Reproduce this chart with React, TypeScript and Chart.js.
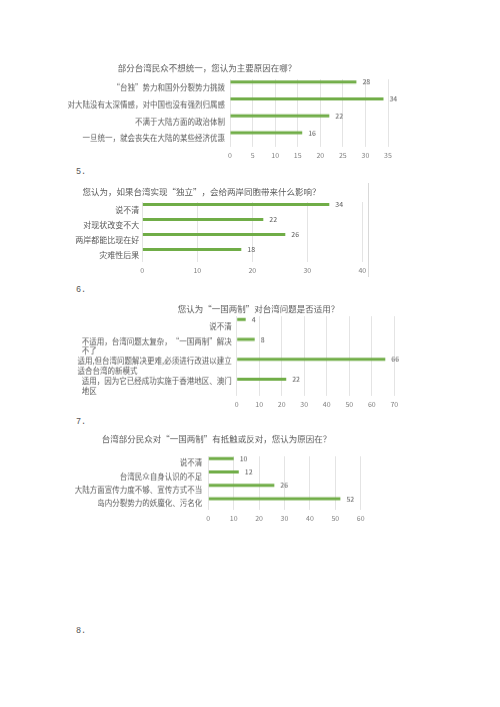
import React, { useEffect, useRef } from "react";
import { Chart, registerables } from "chart.js";

Chart.register(...registerables);

const FONT = '"Noto Sans CJK SC", "Noto Sans", sans-serif';
const GREEN = "#70ad47";
const TEXT = "#595959";
const TICK = "#808080";
const GRID = "#e4e4e4";

// Q4: why some people in Taiwan don't want unification
const q4Title = "部分台湾民众不想统一，您认为主要原因在哪？";
const q4Labels = [
  "“台独”势力和国外分裂势力挑拨",
  "对大陆没有太深情感，对中国也没有强烈归属感",
  "不满于大陆方面的政治体制",
  "一旦统一，就会丧失在大陆的某些经济优惠",
];
const q4Values = [28, 34, 22, 16];
const q4Ticks = [0, 5, 10, 15, 20, 25, 30, 35];

// Q5: impact of "independence"
const q5Title = "您认为，如果台湾实现“独立”，会给两岸同胞带来什么影响？";
const q5Labels = ["说不清", "对现状改变不大", "两岸都能比现在好", "灾难性后果"];
const q5Values = [34, 22, 26, 18];
const q5Ticks = [0, 10, 20, 30, 40];

// Q6: is "one country, two systems" applicable
const q6Title = "您认为“一国两制”对台湾问题是否适用？";
const q6Labels = [
  "说不清",
  ["不适用，台湾问题太复杂，“一国两制”解决", "不了"],
  ["适用,但台湾问题解决更难,必须进行改进以建立", "适合台湾的新模式"],
  ["适用，因为它已经成功实施于香港地区、澳门", "地区"],
];
const q6Values = [4, 8, 66, 22];
const q6Ticks = [0, 10, 20, 30, 40, 50, 60, 70];

// Q7: reasons for resistance
const q7Title = "台湾部分民众对“一国两制”有抵触或反对，您认为原因在？";
const q7Labels = [
  "说不清",
  "台湾民众自身认识的不足",
  "大陆方面宣传力度不够、宣传方式不当",
  "岛内分裂势力的妖魔化、污名化",
];
const q7Values = [10, 12, 26, 52];
const q7Ticks = [0, 10, 20, 30, 40, 50, 60];

const CANVAS_LEFT = 10;
const CANVAS_W = 440;

type Label = string | string[];

interface PanelProps {
  title: string;
  labels: Label[];
  values: number[];
  ticks: number[];
  titleX: number;
  titleY: number;
  area: [number, number, number, number]; // left, top, right, bottom (page px)
  labelSize: number;
  labelGap: number;
}

const BarPanel = ({ title, labels, values, ticks, titleX, titleY, area, labelSize, labelGap }: PanelProps) => {
  const canvasRef = useRef<HTMLCanvasElement>(null);
  const [areaLeft, areaTop, areaRight, areaBottom] = area;
  const canvasTop = titleY - 10;
  const canvasH = areaBottom + 16 - canvasTop;

  useEffect(() => {
    if (!canvasRef.current) return;
    const padL = 2 * titleX - areaRight - CANVAS_LEFT;
    const padR = CANVAS_LEFT + CANVAS_W - areaRight;
    const yWidth = areaLeft - CANVAS_LEFT - padL;

    // category labels (block left-aligned, placed right against the axis) and value labels
    const barText = {
      id: "barText",
      afterDatasetsDraw(chart: any) {
        const { ctx, chartArea } = chart;
        const yScale = chart.scales.y;
        ctx.save();
        ctx.fillStyle = TEXT;
        ctx.textBaseline = "middle";
        ctx.textAlign = "left";
        ctx.font = `${labelSize}px ${FONT}`;
        labels.forEach((lab, i) => {
          const lines = Array.isArray(lab) ? lab : [lab];
          const w = Math.max(...lines.map((l) => ctx.measureText(l).width));
          const cy = yScale.getPixelForValue(i);
          const x0 = chartArea.left - labelGap - w;
          lines.forEach((line, k) => {
            ctx.fillText(line, x0, cy + (k - (lines.length - 1) / 2) * 9.5);
          });
        });
        ctx.font = `7px ${FONT}`;
        chart.getDatasetMeta(0).data.forEach((bar: any, i: number) => {
          ctx.fillText(String(values[i]), bar.x + 6, bar.y);
        });
        ctx.restore();
      },
    };

    const chart = new Chart(canvasRef.current, {
      type: "bar",
      data: {
        labels: labels as any,
        datasets: [
          { data: values, backgroundColor: GREEN },
          // empty spacer series so the bar sits in the upper part of each band
          { data: [] },
          { data: [] },
          { data: [] },
        ],
      },
      options: {
        indexAxis: "y",
        animation: false,
        responsive: false,
        layout: { padding: { left: padL, right: padR, top: 0, bottom: 0 } },
        datasets: {
          bar: { categoryPercentage: 0.9, barPercentage: 1, maxBarThickness: 3 },
        },
        plugins: {
          legend: { display: false },
          tooltip: { enabled: false },
          title: {
            display: true,
            text: title,
            color: TEXT,
            font: { family: FONT, size: 8.5, weight: "normal" },
            padding: { top: titleY - 5.1 - canvasTop, bottom: areaTop - titleY - 5.1 },
          },
        },
        scales: {
          x: {
            min: ticks[0],
            max: ticks[ticks.length - 1],
            afterBuildTicks: (s: any) => {
              s.ticks = ticks.map((v) => ({ value: v }));
            },
            afterFit: (s: any) => {
              s.height = 16;
            },
            ticks: { color: TICK, font: { family: FONT, size: 7 }, padding: 4 },
            grid: { color: GRID, drawTicks: false },
            border: { display: false },
          },
          y: {
            afterFit: (s: any) => {
              s.width = yWidth;
            },
            ticks: { display: false },
            grid: { display: false },
            border: { display: false },
          },
        },
      },
      plugins: [barText],
    });

    return () => {
      chart.destroy();
    };
  }, []);

  return (
    <div style={{ position: "absolute", left: CANVAS_LEFT, top: canvasTop }}>
      <canvas ref={canvasRef} width={CANVAS_W} height={canvasH} style={{ width: CANVAS_W, height: canvasH, display: "block" }} />
    </div>
  );
};

const numStyle = (top: number): React.CSSProperties => ({
  position: "absolute",
  left: 76,
  top: top - 6,
  fontFamily: '"Liberation Mono", monospace',
  fontSize: 8.5,
  lineHeight: "12px",
  color: "#555",
});

const App = () => {
  return (
    <div style={{ position: "absolute", left: 0, top: 0, width: 500, height: 707, background: "#fff", overflow: "hidden" }}>
      <BarPanel
        title={q4Title}
        labels={q4Labels}
        values={q4Values}
        ticks={q4Ticks}
        titleX={207}
        titleY={68}
        area={[230, 79, 388, 146.5]}
        labelSize={7.5}
        labelGap={5}
      />
      <div style={numStyle(172)}>5.</div>

      <BarPanel
        title={q5Title}
        labels={q5Labels}
        values={q5Values}
        ticks={q5Ticks}
        titleX={201.5}
        titleY={192}
        area={[142.3, 202, 362.3, 262]}
        labelSize={8}
        labelGap={3}
      />
      {/* right edge of the Q5 chart frame */}
      <div style={{ position: "absolute", left: 368, top: 183, width: 1, height: 94, background: "#d9d9d9" }} />
      <div style={numStyle(290)}>6.</div>

      <BarPanel
        title={q6Title}
        labels={q6Labels}
        values={q6Values}
        ticks={q6Ticks}
        titleX={258.5}
        titleY={309}
        area={[236.7, 316, 394.3, 395.5]}
        labelSize={7.5}
        labelGap={5}
      />
      <div style={numStyle(422)}>7.</div>

      <BarPanel
        title={q7Title}
        labels={q7Labels}
        values={q7Values}
        ticks={q7Ticks}
        titleX={216.5}
        titleY={439}
        area={[208.3, 456, 360.7, 509.5]}
        labelSize={7.5}
        labelGap={6}
      />
      <div style={numStyle(631)}>8.</div>
    </div>
  );
};

export default App;
